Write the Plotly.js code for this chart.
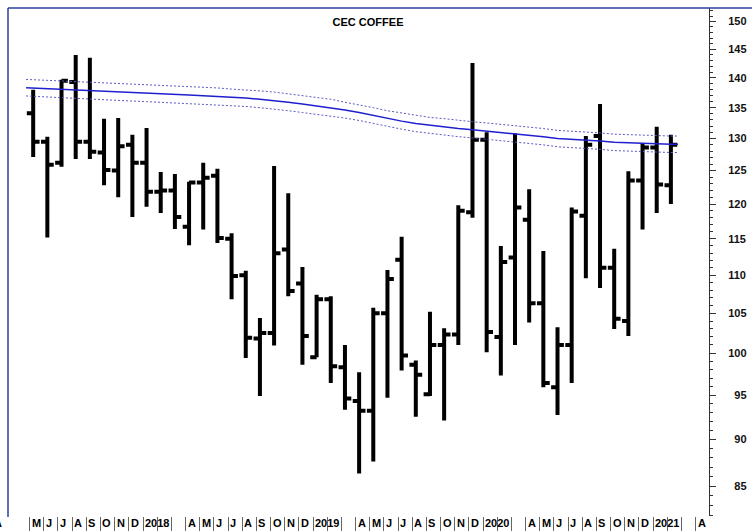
<!DOCTYPE html>
<html>
<head>
<meta charset="utf-8">
<script src="https://cdn.plot.ly/plotly-3.0.1.min.js"></script>
<style>
html,body{margin:0;padding:0;background:#fff;}
#chart{width:752px;height:532px;}
</style>
</head>
<body>
<div id="chart"></div>
<script>
// ---- data (monthly bars) ----
const months = ['2017-05','2017-06','2017-07','2017-08','2017-09','2017-10','2017-11','2017-12',
  '2018-01','2018-02','2018-03','2018-04','2018-05','2018-06','2018-07','2018-08','2018-09','2018-10','2018-11','2018-12',
  '2019-01','2019-02','2019-03','2019-04','2019-05','2019-06','2019-07','2019-08','2019-09','2019-10','2019-11','2019-12',
  '2020-01','2020-02','2020-03','2020-04','2020-05','2020-06','2020-07','2020-08','2020-09','2020-10','2020-11','2020-12',
  '2021-01','2021-02'];
const openV  = [134.1,129.5,126.2,139.3,129.5,127.8,125.0,129.0, 126.2,121.8,122.0,116.7,123.2,124.2,115.0,110.0,101.8,102.5,113.5,108.9,
  99.5,106.8,98.3,94.3,93.2,105.0,112.1,98.6,95.1,101.0,102.3,118.8, 129.8,102.0,112.4,117.7,106.3,95.9,101.0,118.3,130.4,111.0,104.0,123.5, 128.6,122.8];
const highV  = [138.0,130.3,139.7,144.0,143.5,133.2,133.3,130.6, 131.7,124.8,124.5,123.3,126.2,125.3,115.8,110.6,104.4,125.7,121.6,111.1,
  107.4,107.2,101.0,97.7,105.7,110.7,115.3,99.1,105.2,103.1,119.8,142.6, 131.0,114.0,130.8,122.2,113.3,103.2,119.5,130.4,135.6,113.6,124.9,129.3, 131.9,130.6];
const lowV   = [127.1,115.2,125.6,126.8,126.8,122.8,121.0,118.1, 119.6,118.7,116.4,114.1,116.3,114.4,106.8,99.4,94.9,100.95,107.2,98.6,
  99.5,96.4,93.3,86.3,87.6,94.7,97.9,92.5,94.9,92.1,101.0,118.0, 100.1,97.3,101.0,103.8,95.9,92.7,96.4,109.6,108.3,103.0,102.1,116.3, 118.7,120.0];
const closeV = [129.5,125.9,139.5,129.5,127.9,125.1,128.8,126.2, 121.8,122.0,118.1,123.2,123.9,115.1,109.9,101.9,102.5,113.0,107.9,102.1,
  106.8,98.4,94.6,93.2,105.0,109.5,99.7,97.4,101.0,102.3,119.0,129.8, 102.6,111.8,119.5,106.3,96.4,101.0,118.9,129.0,111.0,104.3,123.5,128.6, 122.9,129.0];
// moving average and its envelope (one value per bar, plus a half-month stub at each end)
const maMid   = [138.35, 138.3,138.2,138.1,138.0,137.9,137.8,137.7,137.5, 137.4,137.3,137.2,137.1,137.0,136.9,136.7,136.6,136.4,136.2,135.9,135.6,
  135.3,135.0,134.6,134.2,133.7,133.2,132.8,132.4,132.1,131.9,131.6,131.4, 131.2,131.0,130.8,130.5,130.3,130.0,129.9,129.8,129.6,129.4,129.3,129.2, 129.1,129.1, 129.1];
const maUpper = [139.75, 139.7,139.6,139.5,139.4,139.3,139.2,139.1,138.9, 138.8,138.7,138.6,138.5,138.4,138.3,138.1,138.0,137.8,137.6,137.3,137.0,
  136.7,136.4,135.9,135.5,135.0,134.5,134.1,133.7,133.4,133.2,132.9,132.7, 132.5,132.3,132.1,131.8,131.6,131.3,131.2,131.1,130.9,130.7,130.6,130.5, 130.4,130.4, 130.4];
const maLower = [136.95, 136.9,136.8,136.7,136.6,136.5,136.4,136.3,136.1, 136.0,135.9,135.8,135.7,135.6,135.5,135.3,135.2,135.0,134.8,134.5,134.2,
  133.9,133.7,133.3,132.9,132.4,131.9,131.5,131.1,130.8,130.6,130.3,130.1, 129.9,129.7,129.5,129.2,129.0,128.7,128.6,128.5,128.3,128.1,128.0,127.9, 127.8,127.8, 127.8];
// x-axis month labels
const labelMonths = ['2017-05','2017-06','2017-07','2017-08','2017-09','2017-10','2017-11','2017-12','2018-01',
  '2018-04','2018-05','2018-06','2018-07','2018-08','2018-09','2018-10','2018-11','2018-12','2019-01',
  '2019-04','2019-05','2019-06','2019-07','2019-08','2019-09','2019-10','2019-11','2019-12','2020-01',
  '2020-04','2020-05','2020-06','2020-07','2020-08','2020-09','2020-10','2020-11','2020-12','2021-01','2021-04'];
const labelText = ['M','J','J','A','S','O','N','D','2018',
  'A','M','J','J','A','S','O','N','D','2019',
  'A','M','J','J','A','S','O','N','D','2020',
  'A','M','J','J','A','S','O','N','D','2021','A'];
const sepFirst = '2017-05', sepLast = '2021-04';
// y-axis tick labels
const yTickVals = [85,90,95,100,105,110,115,120,125,130,135,140,145,150];

// ---- helpers ----
function mIdx(s){ const p = s.split('-').map(Number); return (p[0]-2018)*12 + (p[1]-1); }
const BAR_OFF = 0.25;
const FONT = 'Liberation Sans, Arial, sans-serif';
const barX = months.map(m => mIdx(m) + BAR_OFF);
const maX = [barX[0] - 0.5].concat(barX, [barX[barX.length-1] + 0.5]);

const sepVals = [];
for (let k = mIdx(sepFirst); k <= mIdx(sepLast); k++) sepVals.push(k);

const yTickText = yTickVals.map(v => (v < 100 ? '\u00a0\u00a0' : '') + v);

const traces = [
  {type:'scatter', mode:'lines', x:maX, y:maUpper, line:{color:'#5b5bc4', width:1, dash:'2px,2px'}, hoverinfo:'skip'},
  {type:'scatter', mode:'lines', x:maX, y:maLower, line:{color:'#5b5bc4', width:1, dash:'2px,2px'}, hoverinfo:'skip'},
  {type:'scatter', mode:'lines', x:maX, y:maMid, line:{color:'#1f1fd0', width:1.5}, hoverinfo:'skip'},
  {type:'ohlc', x:barX, open:openV, high:highV, low:lowV, close:closeV, tickwidth:0.45,
   increasing:{line:{color:'#000', width:4}}, decreasing:{line:{color:'#000', width:4}}, hoverinfo:'skip'}
];

const annotations = labelMonths.map((m,i) => ({
  xref:'x', yref:'paper', x:mIdx(m), y:-0.0138, xanchor:'left', yanchor:'middle',
  text:labelText[i], showarrow:false, xshift:0,
  font:{family:FONT, size:11, color:'#000', weight:'bold'}
}));
annotations.push({xref:'paper', yref:'paper', x:-0.0057, y:-0.0138, xanchor:'right', yanchor:'middle',
  text:'A', showarrow:false, font:{family:FONT, size:11, color:'#000', weight:'bold'}});

const layout = {
  width:752, height:532,
  margin:{l:8, r:43, t:8, b:16, pad:0},
  paper_bgcolor:'#fff', plot_bgcolor:'#fff',
  showlegend:false, hovermode:false,
  title:{text:'CEC COFFEE', font:{family:FONT, size:11, color:'#000', weight:'bold'},
         xref:'paper', x:0.5136, xanchor:'center', yref:'container', y:0.9586, yanchor:'middle'},
  xaxis:{type:'linear', range:[-9.527, 39.94], tickmode:'array', tickvals:sepVals,
         ticktext:sepVals.map(()=>''), showticklabels:false,
         ticks:'outside', ticklen:14, tickwidth:1, tickcolor:'#666',
         showgrid:false, zeroline:false, showline:false, rangeslider:{visible:false}, fixedrange:true},
  yaxis:{type:'log', side:'right', range:[1.91350, 2.18327], tickmode:'array',
         tickvals:yTickVals, ticktext:yTickText, ticks:'outside', ticklen:6, tickwidth:1, tickcolor:'#333',
         minor:{dtick:'L1', tick0:0, ticks:'outside', ticklen:3, tickwidth:1, tickcolor:'#333', showgrid:false},
         ticklabelstandoff:10,
         tickfont:{family:FONT, size:11, color:'#111', weight:'bold'},
         showline:true, linecolor:'#333', linewidth:1, showgrid:false, zeroline:false, fixedrange:true},
  shapes:[
    {type:'line', xref:'paper', yref:'paper', x0:0, x1:0, y0:-0.002, y1:1, line:{color:'#2e3f9e', width:1.5}},
    {type:'line', xref:'paper', yref:'paper', x0:0, x1:1.0613, y0:1, y1:1, line:{color:'#2e3f9e', width:1.5}}
  ],
  annotations:annotations
};

Plotly.newPlot('chart', traces, layout, {staticPlot:true, displayModeBar:false});
</script>
</body>
</html>
